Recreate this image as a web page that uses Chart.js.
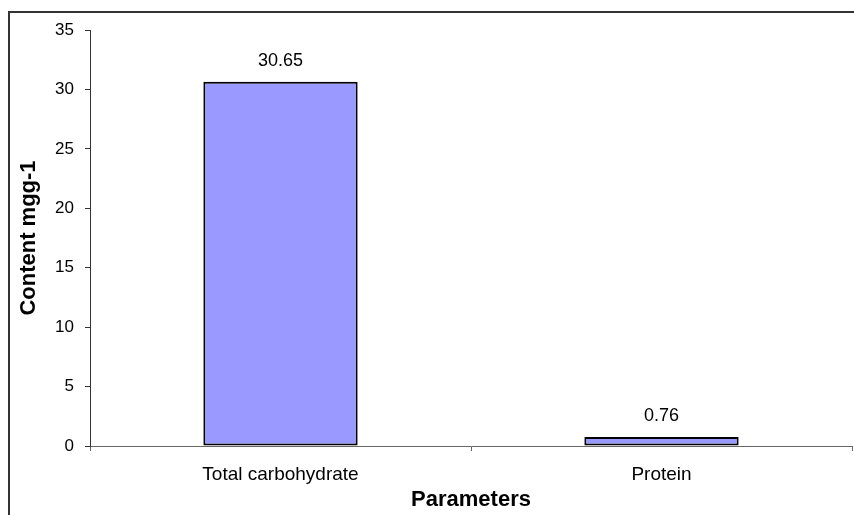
<!DOCTYPE html>
<html>
<head>
<meta charset="utf-8">
<script src="https://cdn.jsdelivr.net/npm/chart.js@4/dist/chart.umd.min.js"></script>
<style>
  html, body { margin: 0; padding: 0; background: #ffffff; overflow: hidden; }
  #wrap { position: relative; width: 854px; height: 515px; overflow: hidden; }
  #frame { position: absolute; left: 8px; top: 11px; width: 900px; height: 600px;
           border-left: 2px solid #333; border-top: 2px solid #333; box-sizing: border-box; }
  canvas { position: absolute; left: 0; top: 0; }
</style>
</head>
<body>
<div id="wrap">
  <div id="frame"></div>
  <canvas id="c" width="854" height="515"></canvas>
</div>
<script>
const categories = ["Total carbohydrate", "Protein"];
const contentValues = [30.65, 0.76];
const valueLabels = ["30.65", "0.76"];
const yTicks = [0, 5, 10, 15, 20, 25, 30, 35];

const FONT = "'Liberation Sans', Arial, sans-serif";

const dataLabelPlugin = {
  id: 'dataLabels',
  afterDatasetsDraw(chart) {
    const ctx = chart.ctx;
    const meta = chart.getDatasetMeta(0);
    ctx.save();
    ctx.font = "18px " + FONT;
    ctx.fillStyle = "#000";
    ctx.textAlign = "center";
    ctx.textBaseline = "middle";
    meta.data.forEach((bar, i) => {
      ctx.fillText(valueLabels[i], bar.x, bar.y - 21);
    });
    ctx.restore();
  }
};

new Chart(document.getElementById('c'), {
  type: 'bar',
  data: {
    labels: categories,
    datasets: [{
      data: contentValues,
      backgroundColor: '#9999FF',
      borderColor: '#000000',
      borderWidth: 2,
      borderSkipped: false,
      categoryPercentage: 1.0,
      barPercentage: 0.405
    }]
  },
  options: {
    responsive: false,
    animation: false,
    layout: { padding: { top: 30, right: 2, left: 0, bottom: 0 } },
    plugins: { legend: { display: false }, tooltip: { enabled: false } },
    scales: {
      x: {
        grid: { offset: true, drawOnChartArea: false, drawTicks: true, tickLength: 5, color: '#666' },
        border: { display: true, color: '#666', width: 1 },
        ticks: { color: '#000', font: { family: FONT, size: 19 }, padding: 12, maxRotation: 0 },
        title: { display: true, text: 'Parameters', color: '#000',
                 font: { family: FONT, size: 22, weight: 'bold' }, padding: { top: 0, bottom: 2 } },
        afterFit(scale) { scale.height = 69; }
      },
      y: {
        min: 0, max: 35,
        afterBuildTicks(scale) { scale.ticks = yTicks.map(v => ({ value: v })); },
        grid: { drawOnChartArea: false, drawTicks: true, tickLength: 5, color: '#333' },
        border: { display: true, color: '#333', width: 1 },
        ticks: { color: '#000', font: { family: FONT, size: 17 }, padding: 11 },
        title: { display: true, text: 'Content mgg-1', color: '#000',
                 font: { family: FONT, size: 22, weight: 'bold' }, padding: { top: 16, bottom: 0 } },
        afterFit(scale) { scale.width = 90; }
      }
    }
  },
  plugins: [dataLabelPlugin]
});
</script>
</body>
</html>
